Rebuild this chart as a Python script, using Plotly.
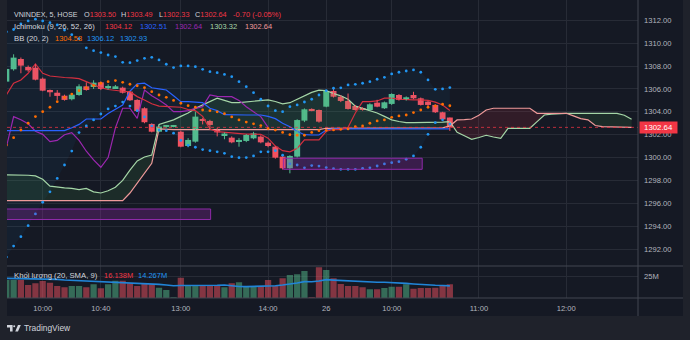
import plotly.graph_objects as go

# ---------------- data ----------------
# bar index: 0 = 10:00 on the 25th, one step = one 5-minute bar
bar_idx = list(range(-5, 57))

opens = [1306.64, 1307.72, 1308.62, 1307.92, 1307.86, 1306.90, 1305.91, 1305.67, 1305.41, 1305.10,
         1305.47, 1306.23, 1306.17, 1306.58, 1306.06, 1306.06, 1306.11, 1305.76, 1305.04, 1304.31,
         1302.94, 1302.26, 1302.72, 1302.74, 1302.26, 1301.01, 1301.39, 1303.37, 1303.20, 1302.50,
         1301.97, 1301.74, 1301.39, 1301.45, 1301.68, 1301.83, 1301.30, 1300.95, 1300.08, 1299.06,
         1300.08, 1303.23, 1304.25, 1304.16, 1304.45, 1305.82, 1305.32, 1304.95, 1304.51, 1304.31,
         1304.16, 1304.80, 1304.31, 1304.69, 1305.47, 1305.04, 1305.47, 1305.18, 1304.89, 1304.60,
         1303.96, 1303.50]
highs = [1308.00, 1309.03, 1308.75, 1308.05, 1308.16, 1307.00, 1305.95, 1305.90, 1305.50, 1305.62,
         1306.41, 1306.58, 1306.76, 1306.65, 1306.40, 1306.35, 1306.20, 1305.80, 1305.10, 1304.40,
         1303.00, 1302.80, 1302.85, 1302.85, 1302.35, 1301.70, 1304.01, 1303.45, 1303.30, 1302.60,
         1302.20, 1301.85, 1301.70, 1302.05, 1302.25, 1301.95, 1301.40, 1301.00, 1300.15, 1300.20,
         1303.35, 1304.30, 1304.30, 1304.20, 1305.90, 1306.10, 1305.45, 1305.60, 1304.60, 1304.40,
         1304.75, 1305.05, 1304.90, 1305.62, 1305.55, 1305.35, 1305.75, 1305.25, 1304.95, 1304.65,
         1304.00, 1303.50]
lows = [1306.50, 1307.60, 1307.37, 1307.50, 1306.75, 1305.80, 1305.32, 1305.04, 1304.98, 1305.00,
        1305.40, 1305.85, 1306.00, 1305.90, 1305.95, 1306.00, 1305.60, 1304.95, 1304.00, 1303.00,
        1302.20, 1302.20, 1302.60, 1302.65, 1300.90, 1300.90, 1301.30, 1302.90, 1302.50, 1301.85,
        1301.60, 1301.25, 1300.95, 1301.35, 1301.60, 1301.25, 1300.90, 1299.90, 1298.95, 1298.62,
        1300.00, 1303.10, 1304.05, 1303.05, 1304.40, 1305.25, 1304.85, 1304.20, 1304.10, 1304.10,
        1304.10, 1304.40, 1304.25, 1304.60, 1304.98, 1304.98, 1305.10, 1304.55, 1304.50, 1303.90,
        1303.25, 1302.33]
closes = [1307.75, 1308.74, 1308.04, 1307.63, 1306.81, 1305.85, 1305.71, 1305.39, 1305.04, 1305.50,
          1306.23, 1305.91, 1306.55, 1306.00, 1306.26, 1306.23, 1305.67, 1305.01, 1304.07, 1303.09,
          1302.26, 1302.71, 1302.80, 1302.80, 1300.95, 1301.54, 1303.58, 1303.20, 1302.85, 1302.20,
          1302.10, 1301.33, 1301.54, 1301.97, 1302.12, 1301.33, 1301.01, 1299.99, 1299.06, 1300.14,
          1303.28, 1304.22, 1304.10, 1303.14, 1305.82, 1305.32, 1304.95, 1304.25, 1304.16, 1304.16,
          1304.66, 1304.45, 1304.83, 1305.56, 1305.04, 1305.27, 1305.18, 1304.60, 1304.60, 1303.96,
          1303.34, 1302.64]

volume_m = [21.0, 21.0, 21.0, 15.3, 17.2, 20.0, 18.0, 14.1, 12.5, 14.1,
            14.1, 12.5, 16.0, 11.4, 16.0, 20.3, 20.3, 17.2, 14.1, 17.2,
            16.0, 12.1, 9.4, 1.0, 23.8, 14.1, 14.1, 14.0, 14.0, 14.0,
            12.5, 17.2, 18.4, 14.1, 14.1, 14.1, 21.1, 14.1, 23.1, 27.0,
            27.8, 31.7, 1.0, 36.0, 32.9, 23.1, 16.4, 14.1, 14.1, 12.6,
            10.2, 10.2, 11.7, 13.3, 13.3, 16.1, 10.9, 11.7, 11.7, 12.1,
            15.3, 16.1]
volume_sma_m = [23.0, 22.9, 22.7, 22.5, 22.4, 22.3, 22.3, 21.8, 21.2, 20.8,
                20.4, 20.2, 20.0, 20.0, 19.5, 19.0, 18.5, 18.0, 17.5, 17.0,
                16.4, 16.0, 15.2, 14.4, 14.6, 14.5, 14.4, 14.5, 14.8, 15.0,
                15.3, 14.0, 13.5, 13.3, 13.4, 13.4, 14.2, 14.4, 15.3, 16.1,
                17.6, 19.2, 19.0, 20.0, 21.6, 21.0, 20.5, 20.2, 20.0, 19.5,
                18.9, 18.5, 18.4, 18.2, 17.8, 17.2, 16.5, 15.8, 15.2, 14.9,
                14.6, 14.27]

# Ichimoku (9, 26, 52, 26)
tenkan = [1305.47, 1306.50, 1306.78, 1307.37, 1308.19, 1307.37, 1307.13, 1307.05, 1307.00, 1306.97,
          1306.90, 1306.64, 1306.35, 1306.10, 1305.95, 1305.85, 1305.80, 1305.76, 1305.33, 1305.04,
          1304.70, 1304.50, 1304.45, 1304.45, 1304.40, 1304.20, 1304.10, 1303.60, 1302.50, 1302.26,
          1302.20, 1302.15, 1302.10, 1302.05, 1302.05, 1302.03, 1301.70, 1301.00, 1300.60, 1300.50,
          1300.80, 1301.54, 1301.54, 1301.54, 1302.30, 1302.45, 1302.45, 1302.65, 1303.90, 1304.89,
          1304.89, 1304.95, 1305.20, 1305.20, 1305.10, 1305.04, 1305.04, 1305.04, 1305.00, 1304.85,
          1304.60, 1304.12]
kijun = [1302.35, 1302.35, 1302.35, 1302.35, 1302.35, 1302.35, 1302.35, 1302.35, 1302.35, 1302.60,
         1302.90, 1303.37, 1303.37, 1303.37, 1303.85, 1304.20, 1304.60, 1305.80, 1306.45, 1306.50,
         1306.10, 1306.00, 1305.91, 1305.40, 1304.89, 1304.89, 1304.85, 1304.80, 1304.31, 1304.10,
         1303.75, 1303.72, 1303.72, 1303.72, 1303.72, 1303.72, 1303.60, 1303.40, 1303.00, 1302.70,
         1302.30, 1302.00, 1301.97, 1301.97, 1302.41, 1302.51, 1302.51, 1302.51, 1302.51, 1302.51,
         1302.51, 1302.51, 1302.51, 1302.51, 1302.51, 1302.51, 1302.51, 1302.51, 1302.51, 1302.51,
         1302.51, 1302.51]
lagging_idx = list(range(-5, 32))
lagging = [1300.90, 1303.58, 1303.30, 1302.95, 1302.30, 1302.03, 1301.39, 1301.50, 1302.00, 1302.18,
           1301.50, 1300.55, 1299.80, 1299.15, 1300.00, 1302.60, 1304.31, 1304.31, 1303.43, 1305.90,
           1305.40, 1305.04, 1304.60, 1304.01, 1304.01, 1304.10, 1304.30, 1304.45, 1305.47, 1305.35,
           1305.33, 1305.33, 1305.00, 1304.45, 1304.00, 1303.58, 1302.64]
lead_idx = list(range(-5, 82))
lead_a = [1298.48, 1298.48, 1298.48, 1298.45, 1298.40, 1298.10, 1297.50, 1297.40, 1297.35, 1297.30,
          1297.20, 1297.30, 1297.00, 1296.90, 1297.10, 1297.40, 1298.00, 1298.90, 1299.70, 1300.05,
          1300.22, 1302.90, 1303.10, 1303.30, 1303.60, 1303.90, 1304.30, 1304.60, 1304.90, 1305.20,
          1305.00, 1304.80, 1304.80, 1304.85, 1304.90, 1305.00, 1305.05, 1304.90, 1304.70, 1304.80,
          1305.10, 1305.40, 1305.70, 1305.90, 1305.85, 1305.60, 1305.40, 1305.10, 1304.50, 1304.30,
          1304.10, 1303.90, 1303.60, 1303.30, 1303.15, 1303.05, 1303.05, 1303.05, 1303.05, 1303.10,
          1303.10, 1303.14, 1302.20, 1301.90, 1301.60, 1301.75, 1301.95, 1301.80, 1301.68, 1302.56,
          1302.56, 1302.56, 1302.56, 1303.14, 1303.72, 1303.80, 1303.85, 1303.87, 1303.87, 1303.87,
          1303.87, 1303.87, 1303.87, 1303.87, 1303.87, 1303.70, 1303.35]
lead_b = [1296.23, 1296.23, 1296.23, 1296.23, 1296.23, 1296.23, 1296.23, 1296.23, 1296.23, 1296.23,
          1296.23, 1296.23, 1296.23, 1296.23, 1296.23, 1296.23, 1296.23, 1296.90, 1297.80, 1298.60,
          1299.50, 1302.50, 1302.45, 1302.45, 1302.45, 1302.45, 1302.45, 1302.45, 1302.45, 1302.45,
          1302.45, 1302.45, 1302.45, 1302.45, 1302.45, 1302.45, 1302.45, 1302.45, 1302.45, 1302.45,
          1302.45, 1302.45, 1302.45, 1302.45, 1302.56, 1302.56, 1302.56, 1302.56, 1302.56, 1302.56,
          1302.56, 1302.56, 1302.56, 1302.56, 1302.56, 1302.56, 1302.56, 1302.56, 1302.56, 1302.56,
          1302.60, 1302.77, 1303.29, 1303.32, 1303.37, 1303.70, 1304.16, 1304.31, 1304.31, 1304.31,
          1304.31, 1304.31, 1304.31, 1303.87, 1303.87, 1303.87, 1303.87, 1303.87, 1303.64, 1303.40,
          1303.30, 1302.80, 1302.70, 1302.68, 1302.66, 1302.65, 1302.64]

# Bollinger Bands (20, 2)
bb_upper = [1311.00, 1311.20, 1311.70, 1311.95, 1312.10, 1311.95, 1311.80, 1311.60, 1311.15, 1310.75,
            1310.40, 1309.60, 1309.35, 1309.18, 1308.97, 1308.83, 1308.33, 1308.30, 1308.48, 1308.68,
            1308.77, 1308.54, 1308.16, 1307.87, 1308.01, 1308.01, 1307.95, 1307.72, 1307.51, 1307.42,
            1307.27, 1307.07, 1306.64, 1306.20, 1305.67, 1305.10, 1304.51, 1304.10, 1304.01, 1304.45,
            1304.60, 1304.86, 1305.10, 1305.47, 1305.85, 1306.06, 1306.10, 1306.35, 1306.40, 1306.50,
            1306.64, 1306.85, 1307.02, 1307.31, 1307.46, 1307.57, 1307.66, 1307.46, 1306.79, 1305.97,
            1306.00, 1306.12]
bb_basis = [1301.10, 1301.74, 1302.41, 1303.00, 1303.58, 1304.01, 1304.40, 1304.89, 1305.25, 1305.55,
            1305.85, 1306.10, 1306.30, 1306.50, 1306.64, 1306.73, 1306.58, 1306.41, 1306.28, 1306.11,
            1305.76, 1305.47, 1305.27, 1305.00, 1304.75, 1304.54, 1304.40, 1304.16, 1304.10, 1304.00,
            1303.84, 1303.55, 1303.29, 1303.10, 1302.95, 1302.80, 1302.55, 1302.40, 1302.20, 1302.00,
            1301.95, 1301.95, 1302.20, 1302.35, 1302.38, 1302.42, 1302.47, 1302.50, 1302.70, 1302.77,
            1303.00, 1303.20, 1303.29, 1303.52, 1303.64, 1303.72, 1303.93, 1304.16, 1304.40, 1304.51,
            1304.66, 1304.53]
bb_lower = [1291.30, 1292.26, 1293.08, 1294.04, 1295.07, 1296.09, 1297.00, 1298.17, 1299.35, 1300.57,
            1302.18, 1302.77, 1303.29, 1303.81, 1304.25, 1304.50, 1304.85, 1304.50, 1304.10, 1303.55,
            1302.75, 1302.40, 1302.35, 1302.13, 1301.50, 1301.07, 1300.90, 1300.70, 1300.60, 1300.50,
            1300.37, 1300.08, 1299.99, 1300.00, 1300.14, 1300.50, 1300.50, 1300.60, 1300.20, 1299.45,
            1299.35, 1299.10, 1299.30, 1299.25, 1299.12, 1299.03, 1298.97, 1298.97, 1298.97, 1299.06,
            1299.10, 1299.26, 1299.44, 1299.55, 1299.64, 1299.85, 1300.14, 1300.90, 1302.03, 1303.05,
            1303.30, 1302.93]

# drawn rectangles (bar index span, price span)
zones = [(-8, 23.1, 1294.58, 1295.50), (33.1, 52.2, 1298.97, 1299.94)]
last_price = 1302.64

time_tick_idx = [0, 8, 19, 31, 39, 48, 60, 72]
time_tick_text = ["10:00", "10:40", "13:00", "14:00", "26", "10:00", "11:00", "12:00"]

# ---------------- styling ----------------
BG = "#151924"
OUTER = "#1f222b"
GRID = "#272b36"
SEP = "#434651"
AXIS_TXT = "#b2b5be"
LEG_TXT = "#d1d4dc"
UP = "#55bd8c"
DOWN = "#f4515f"
UP_VOL = "rgba(85,189,140,0.5)"
DOWN_VOL = "rgba(244,81,95,0.5)"
FONT = "Liberation Sans, Arial, sans-serif"

# pixel frame of the plotting area
PX_L, PX_R, PX_T, PX_B = 7, 638, 0, 298
PANE_SPLIT = 266
AXIS_R, TIME_B = 683, 316


def px_x(px):
    return (px - PX_L) / (PX_R - PX_L)


def px_y(py):
    return (PX_B - py) / (PX_B - PX_T)


fig = go.Figure()

# Bollinger band background
fig.add_trace(go.Scatter(x=bar_idx, y=bb_lower, mode="lines", line=dict(width=0),
                         hoverinfo="skip"))
fig.add_trace(go.Scatter(x=bar_idx, y=bb_upper, mode="lines", line=dict(width=0),
                         fill="tonexty", fillcolor="rgba(33,150,243,0.06)", hoverinfo="skip"))


# Kumo: insert crossing points so the fill colour flips exactly where spans cross
def split_cloud(xs, a, b):
    X, A, B = [xs[0]], [a[0]], [b[0]]
    for k in range(1, len(xs)):
        d0, d1 = a[k - 1] - b[k - 1], a[k] - b[k]
        if d0 * d1 < 0:
            t = d0 / (d0 - d1)
            xc = xs[k - 1] + t * (xs[k] - xs[k - 1])
            yc = a[k - 1] + t * (a[k] - a[k - 1])
            X.append(xc)
            A.append(yc)
            B.append(yc)
        X.append(xs[k])
        A.append(a[k])
        B.append(b[k])
    return X, A, B


cx, ca, cb = split_cloud(lead_idx, lead_a, lead_b)
c_lo = [min(p, q) for p, q in zip(ca, cb)]
for top, col in ((ca, "rgba(76,175,80,0.13)"), (cb, "rgba(242,54,69,0.13)")):
    fig.add_trace(go.Scatter(x=cx, y=c_lo, mode="lines", line=dict(width=0), hoverinfo="skip"))
    fig.add_trace(go.Scatter(x=cx, y=top, mode="lines", line=dict(width=0), fill="tonexty",
                             fillcolor=col, hoverinfo="skip"))

fig.add_trace(go.Scatter(x=lead_idx, y=lead_a, mode="lines", line=dict(color="#a5d6a7", width=1.2)))
fig.add_trace(go.Scatter(x=lead_idx, y=lead_b, mode="lines", line=dict(color="#ef9a9a", width=1.2)))
fig.add_trace(go.Scatter(x=lagging_idx, y=lagging, mode="lines", line=dict(color="#9c27b0", width=1.2)))
fig.add_trace(go.Scatter(x=bar_idx, y=kijun, mode="lines", line=dict(color="#2962ff", width=1.2)))
fig.add_trace(go.Scatter(x=bar_idx, y=tenkan, mode="lines", line=dict(color="#d32f3f", width=1.2)))

# price bars: bodies as floating bars, wicks as segments
is_up = [c >= o for o, c in zip(opens, closes)]
body_base = [min(o, c) for o, c in zip(opens, closes)]
body_len = [max(abs(c - o), 0.09) for o, c in zip(opens, closes)]
fig.add_trace(go.Bar(x=bar_idx, y=body_len, base=body_base, width=0.82,
                     marker=dict(color=[UP if u else DOWN for u in is_up], line=dict(width=0)),
                     hoverinfo="skip"))
for want_up, col in ((True, UP), (False, DOWN)):
    wx, wy = [], []
    for k, i in enumerate(bar_idx):
        if is_up[k] == want_up:
            wx += [i, i, None]
            wy += [lows[k], highs[k], None]
    fig.add_trace(go.Scatter(x=wx, y=wy, mode="lines", line=dict(color=col, width=1),
                             hoverinfo="skip"))

# Bollinger dots
for series, col in ((bb_upper, "#2196f3"), (bb_lower, "#2196f3"), (bb_basis, "#ff6d00")):
    fig.add_trace(go.Scatter(x=bar_idx, y=series, mode="markers",
                             marker=dict(color=col, size=2.8, line=dict(width=0)), hoverinfo="skip"))

# volume pane
vol_colors = [UP_VOL if u else DOWN_VOL for u in is_up]
fig.add_trace(go.Bar(x=bar_idx, y=volume_m, marker=dict(color=vol_colors, line=dict(width=0)),
                     width=0.86, yaxis="y2", hoverinfo="skip"))
fig.add_trace(go.Scatter(x=bar_idx, y=volume_sma_m, mode="lines", yaxis="y2",
                         line=dict(color="#2185d8", width=1.6), hoverinfo="skip"))

shapes = []
# drawn zones
for x0, x1, y0, y1 in zones:
    shapes.append(dict(type="rect", xref="x", yref="y", x0=x0, x1=x1, y0=y0, y1=y1,
                       fillcolor="rgba(156,39,176,0.28)", line=dict(color="#8e2aa8", width=1)))
# last price line
shapes.append(dict(type="line", xref="paper", yref="y", x0=0, x1=1, y0=last_price, y1=last_price,
                   line=dict(color="rgba(242,54,69,0.75)", width=1, dash="dot")))
# frame: pane separator, time scale line, price scale border
shapes.append(dict(type="line", xref="paper", yref="paper", x0=0, x1=px_x(AXIS_R),
                   y0=px_y(PANE_SPLIT), y1=px_y(PANE_SPLIT), line=dict(color=SEP, width=1)))
shapes.append(dict(type="line", xref="paper", yref="paper", x0=0, x1=px_x(AXIS_R),
                   y0=0, y1=0, line=dict(color=SEP, width=1)))
shapes.append(dict(type="line", xref="paper", yref="paper", x0=1, x1=1,
                   y0=px_y(TIME_B), y1=1, line=dict(color=SEP, width=1)))
# surround of the chart panel
for x0, x1, y0, y1 in ((-10, 7, -10, 400), (AXIS_R, 700, -10, 400), (-10, 700, TIME_B, 400)):
    shapes.append(dict(type="rect", xref="paper", yref="paper", x0=px_x(x0), x1=px_x(x1),
                       y0=px_y(y1), y1=px_y(y0), fillcolor=OUTER, line=dict(width=0), layer="above"))


def poly(points):
    return "M " + " L ".join(f"{px_x(a):.5f},{px_y(b):.5f}" for a, b in points) + " Z"


# TradingView mark
LOGO = "#d1d4dc"
shapes.append(dict(type="path", xref="paper", yref="paper",
                   path=poly([(7, 325), (12.6, 325), (12.6, 331.5), (10, 331.5), (10, 327.4), (7, 327.4)]),
                   fillcolor=LOGO, line=dict(width=0)))
shapes.append(dict(type="circle", xref="paper", yref="paper", x0=px_x(13.2), x1=px_x(15.2),
                   y0=px_y(327.3), y1=px_y(325.3), fillcolor=LOGO, line=dict(width=0)))
shapes.append(dict(type="path", xref="paper", yref="paper",
                   path=poly([(15.2, 331.5), (18.0, 325), (20.8, 325), (18.0, 331.5)]),
                   fillcolor=LOGO, line=dict(width=0)))

ann = []


def label(px, py, text, color=LEG_TXT, size=7.5):
    ann.append(dict(xref="paper", yref="paper", x=px_x(px), y=px_y(py), text=text,
                    showarrow=False, xanchor="left", yanchor="middle",
                    font=dict(family=FONT, size=size, color=color)))


def span(t, c):
    return f"<span style='color:{c}'>{t}</span>"


RED_TXT = "#f23645"
label(11.7, 15, "VNINDEX, 5, HOSE", size=7.1)
label(81.7, 15, "O" + span("1303.50", RED_TXT), size=7.3)
label(119.3, 15, "H" + span("1303.49", RED_TXT), size=7.3)
label(156.7, 15, "L" + span("1302.33", RED_TXT), size=7.3)
label(193.3, 15, "C" + span("1302.64", RED_TXT), size=7.3)
label(231, 15, "-0.70 (-0.05%)", RED_TXT)

label(11.7, 26.8, "Ichimoku (9, 26, 52, 26)", size=7.7)
label(103.3, 26.8, "1304.12", "#f23645")
label(138.3, 26.8, "1302.51", "#2962ff")
label(173.3, 26.8, "1302.64", "#9c27b0")
label(208.3, 26.8, "1303.32", "#a5d6a7")
label(243.3, 26.8, "1302.64", "#ef9a9a")

label(11.7, 38.7, "BB (20, 2)", size=7.7)
label(52.7, 38.7, "1304.53", "#ff6d00")
label(85, 38.7, "1306.12", "#2196f3")
label(118.3, 38.7, "1302.93", "#2196f3")

label(11.7, 275.7, "Khối lượng (20, SMA, 9)", size=7.7)
label(101.7, 275.7, "16.138M", "#f23645")
label(136, 275.7, "14.267M", "#2196f3")

label(21.5, 328.3, "TradingView", LOGO, 8.4)

# last price tag on the price scale
ann.append(dict(xref="paper", yref="y", x=px_x(639), y=last_price, text="1302.64",
                showarrow=False, xanchor="left", yanchor="middle", width=37, height=11,
                bgcolor="#f23645", borderpad=0, align="center",
                font=dict(family=FONT, size=7.8, color="#ffffff")))

axis_font = dict(family=FONT, size=7.6, color=AXIS_TXT)
fig.update_layout(
    width=690, height=340,
    margin=dict(l=PX_L, r=690 - PX_R, t=PX_T, b=340 - PX_B),
    paper_bgcolor=BG, plot_bgcolor=BG,
    showlegend=False, barmode="overlay",
    hovermode=False,
    xaxis=dict(range=[-4.91, 81.88], anchor="y2", tickmode="array", tickvals=time_tick_idx,
               ticktext=time_tick_text, showgrid=True, gridcolor=GRID, gridwidth=1,
               zeroline=False, showline=False, ticks="", tickfont=axis_font,
               ticklabelstandoff=4, fixedrange=True),
    yaxis=dict(domain=[px_y(265.7), 1], range=[1290.54, 1313.78], anchor="x", side="right",
               tick0=0, dtick=2, tickformat=".2f", showgrid=True, gridcolor=GRID, gridwidth=1,
               zeroline=False, showline=False, ticks="", tickfont=axis_font,
               ticklabelstandoff=5, fixedrange=True),
    yaxis2=dict(domain=[0, px_y(266.3)], range=[0, 37.2], anchor="x", side="right",
                tickmode="array", tickvals=[25], ticktext=["25M"], showgrid=True,
                gridcolor=GRID, gridwidth=1, zeroline=False, showline=False, ticks="",
                tickfont=axis_font, ticklabelstandoff=5, fixedrange=True),
    shapes=shapes,
    annotations=ann,
)

fig.write_html("out.html")
